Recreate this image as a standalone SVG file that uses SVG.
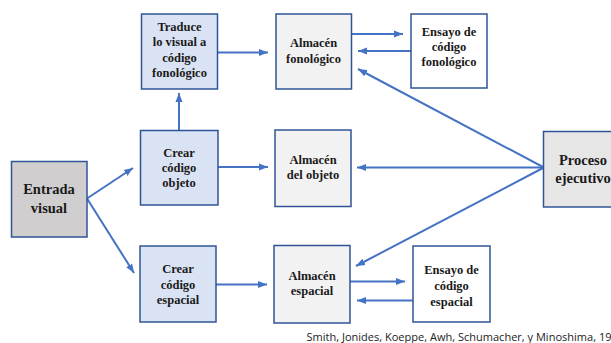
<svg xmlns="http://www.w3.org/2000/svg" width="611" height="343" viewBox="0 0 611 343">
<defs>
<style>
.bx{stroke:#2f5597;stroke-width:1.5}
.blue{fill:#dae3f3}
.gray{fill:#f2f2f2}
.white{fill:#ffffff}
.dark{fill:#d0cece}
.exec{fill:#e7e6e6}
.t{font-family:"Liberation Serif","Times New Roman",serif;font-weight:bold;font-size:12.5px;fill:#1a1a1a;text-anchor:middle}
.tl{font-size:14.5px}
.c{stroke:#4472c4;stroke-width:2;fill:none}
.cite{font-family:"Open Sans","Liberation Sans",sans-serif;font-size:10.5px;fill:#222}
</style>
<marker id="ah" markerUnits="userSpaceOnUse" markerWidth="10" markerHeight="8" refX="9" refY="4" orient="auto">
<path d="M0,0.5 L9,4 L0,7.5 Z" fill="#4472c4"/>
</marker>
</defs>
<rect width="611" height="343" fill="#ffffff"/>

<g id="connectors">
<line class="c" x1="217" y1="52.5" x2="268" y2="52.5" marker-end="url(#ah)"/>
<line class="c" x1="179" y1="130" x2="179" y2="93" marker-end="url(#ah)"/>
<line class="c" x1="218" y1="167" x2="268" y2="167" marker-end="url(#ah)"/>
<line class="c" x1="87" y1="198.5" x2="133" y2="168" marker-end="url(#ah)"/>
<line class="c" x1="87" y1="198.5" x2="134" y2="273" marker-end="url(#ah)"/>
<line class="c" x1="216" y1="284.5" x2="267" y2="284.5" marker-end="url(#ah)"/>
<line class="c" x1="351" y1="34" x2="403" y2="34" marker-end="url(#ah)"/>
<line class="c" x1="411" y1="51" x2="358" y2="51" marker-end="url(#ah)"/>
<line class="c" x1="543" y1="167" x2="358" y2="69" marker-end="url(#ah)"/>
<line class="c" x1="543" y1="167.5" x2="357" y2="167.5" marker-end="url(#ah)"/>
<line class="c" x1="543" y1="168" x2="356" y2="266" marker-end="url(#ah)"/>
<line class="c" x1="350" y1="281.5" x2="405" y2="281.5" marker-end="url(#ah)"/>
<line class="c" x1="413" y1="300.5" x2="357" y2="300.5" marker-end="url(#ah)"/>
</g>

<g id="traduce">
<rect class="bx blue" x="141.5" y="14" width="76" height="75"/>
<text class="t" x="179.5" y="30.5">Traduce</text>
<text class="t" x="179.5" y="46">lo visual a</text>
<text class="t" x="179.5" y="61.5">código</text>
<text class="t" x="179.5" y="77">fonológico</text>
</g>

<g id="almacen-fonologico">
<rect class="bx gray" x="276" y="14" width="75.5" height="75"/>
<text class="t" x="313.5" y="47">Almacén</text>
<text class="t" x="313.5" y="62.5">fonológico</text>
</g>

<g id="ensayo-fonologico">
<rect class="bx white" x="411" y="14" width="76" height="74"/>
<text class="t" x="449" y="36">Ensayo de</text>
<text class="t" x="449" y="51">código</text>
<text class="t" x="449" y="66">fonológico</text>
</g>

<g id="entrada-visual">
<rect class="bx dark" x="11.5" y="161.5" width="75.5" height="75.5"/>
<text class="t tl" x="49" y="194">Entrada</text>
<text class="t tl" x="49" y="213">visual</text>
</g>

<g id="crear-objeto">
<rect class="bx blue" x="140.5" y="130.5" width="77.5" height="74.5"/>
<text class="t" x="179" y="156.5">Crear</text>
<text class="t" x="179" y="171.5">código</text>
<text class="t" x="179" y="186.5">objeto</text>
</g>

<g id="almacen-objeto">
<rect class="bx gray" x="275" y="130" width="76" height="76.5"/>
<text class="t" x="313" y="163.5">Almacén</text>
<text class="t" x="313" y="178.5">del objeto</text>
</g>

<g id="proceso-ejecutivo">
<rect class="bx exec" x="543.5" y="131.5" width="80" height="75.5"/>
<text class="t tl" x="583" y="165">Proceso</text>
<text class="t tl" x="583" y="183">ejecutivo</text>
</g>

<g id="crear-espacial">
<rect class="bx blue" x="140" y="246" width="76" height="76"/>
<text class="t" x="178" y="273">Crear</text>
<text class="t" x="178" y="288.5">código</text>
<text class="t" x="178" y="303.5">espacial</text>
</g>

<g id="almacen-espacial">
<rect class="bx gray" x="274" y="245.5" width="76" height="77.5"/>
<text class="t" x="312" y="280">Almacén</text>
<text class="t" x="312" y="295">espacial</text>
</g>

<g id="ensayo-espacial">
<rect class="bx white" x="413" y="246" width="77" height="76"/>
<text class="t" x="451.5" y="274">Ensayo de</text>
<text class="t" x="451.5" y="290">código</text>
<text class="t" x="451.5" y="306">espacial</text>
</g>

<text class="cite" x="306.5" y="341" textLength="305" lengthAdjust="spacingAndGlyphs">Smith, Jonides, Koeppe, Awh, Schumacher, y Minoshima, 19</text>
</svg>
